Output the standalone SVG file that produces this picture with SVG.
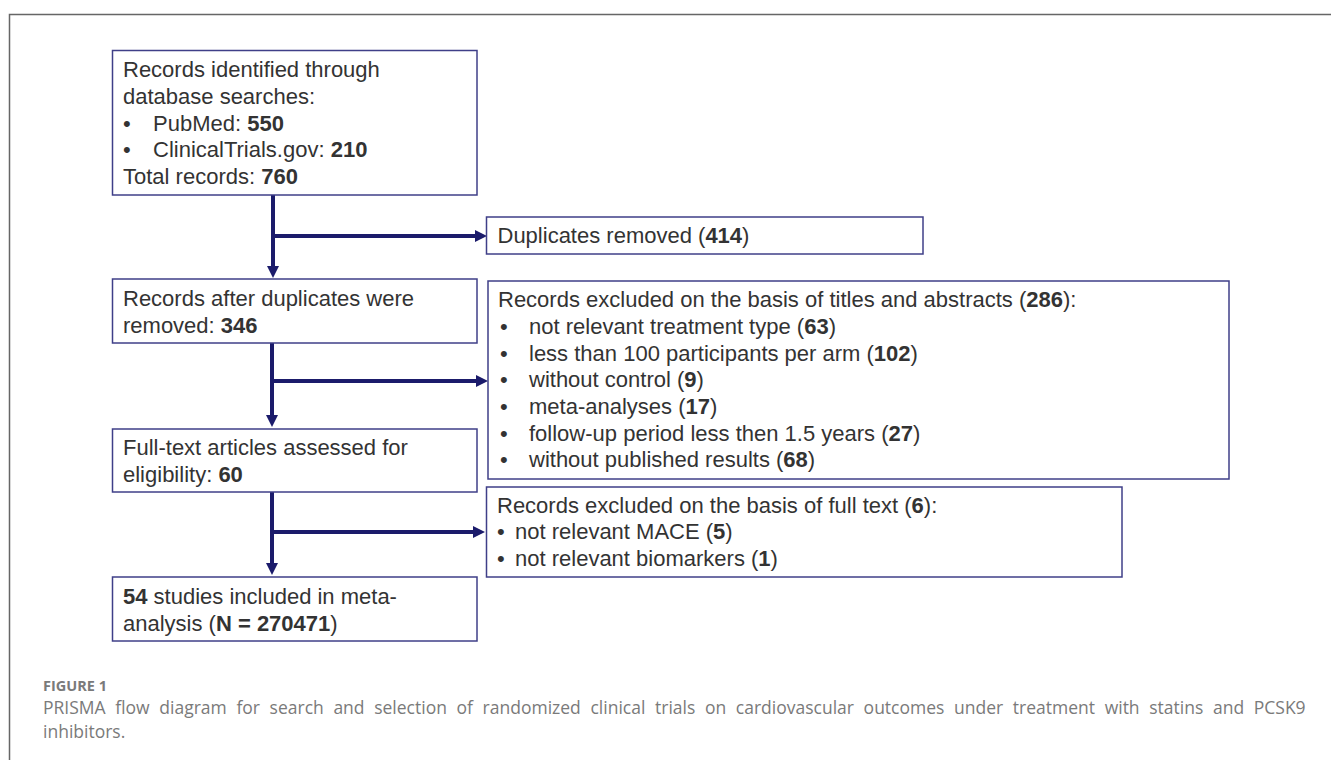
<svg xmlns="http://www.w3.org/2000/svg" width="1331" height="760" viewBox="0 0 1331 760">
<style>
.box{fill:#fff;stroke:#3f3f88;stroke-width:1.5}
.t{font-family:"Liberation Sans",Arial,sans-serif;font-size:22px;fill:#333}
.b{font-weight:bold}
.con{fill:none;stroke:#1b1b6b;stroke-width:4}
.frame{fill:none;stroke:#666;stroke-width:1.5}
.cap{font-family:"Open Sans","Noto Sans",sans-serif;fill:#7a7a7a}
</style>
<defs>
<marker id="ah" viewBox="0 0 12 12" refX="2" refY="6" markerWidth="12" markerHeight="12" markerUnits="userSpaceOnUse" orient="auto">
<path d="M0,0 L12,6 L0,12 z" fill="#1b1b6b"/>
</marker>
</defs>
<path class="frame" d="M1331,14.5 H9.5 V760"/>

<g id="connectors">
<path class="con" d="M273,195 V268" marker-end="url(#ah)"/>
<path class="con" d="M273,236 H477" marker-end="url(#ah)"/>
<path class="con" d="M272,343 V417" marker-end="url(#ah)"/>
<path class="con" d="M272,381 H478" marker-end="url(#ah)"/>
<path class="con" d="M272,492 V565" marker-end="url(#ah)"/>
<path class="con" d="M272,532 H475" marker-end="url(#ah)"/>
</g>

<g id="identified">
<rect class="box" x="112.5" y="50.5" width="364.5" height="144.5"/>
<text class="t" x="123" y="77">Records identified through</text>
<text class="t" x="123" y="104">database searches:</text>
<text class="t" x="123" y="131">•</text>
<text class="t" x="153" y="131">PubMed: <tspan class="b">550</tspan></text>
<text class="t" x="123" y="157">•</text>
<text class="t" x="153" y="157">ClinicalTrials.gov: <tspan class="b">210</tspan></text>
<text class="t" x="123" y="184">Total records: <tspan class="b">760</tspan></text>
</g>

<g id="duplicates">
<rect class="box" x="486.5" y="217" width="436.5" height="37"/>
<text class="t" x="497.5" y="243">Duplicates removed (<tspan class="b">414</tspan>)</text>
</g>

<g id="after-duplicates">
<rect class="box" x="112.5" y="279" width="364.5" height="64"/>
<text class="t" x="123" y="306">Records after duplicates were</text>
<text class="t" x="123" y="333">removed: <tspan class="b">346</tspan></text>
</g>

<g id="excluded-titles">
<rect class="box" x="488" y="281" width="741" height="198"/>
<text class="t" x="498" y="307">Records excluded on the basis of titles and abstracts (<tspan class="b">286</tspan>):</text>
<text class="t" x="500" y="334">•</text>
<text class="t" x="529" y="334">not relevant treatment type (<tspan class="b">63</tspan>)</text>
<text class="t" x="500" y="361">•</text>
<text class="t" x="529" y="361">less than 100 participants per arm (<tspan class="b">102</tspan>)</text>
<text class="t" x="500" y="387">•</text>
<text class="t" x="529" y="387">without control (<tspan class="b">9</tspan>)</text>
<text class="t" x="500" y="414">•</text>
<text class="t" x="529" y="414">meta-analyses (<tspan class="b">17</tspan>)</text>
<text class="t" x="500" y="441">•</text>
<text class="t" x="529" y="441">follow-up period less then 1.5 years (<tspan class="b">27</tspan>)</text>
<text class="t" x="500" y="467">•</text>
<text class="t" x="529" y="467">without published results (<tspan class="b">68</tspan>)</text>
</g>

<g id="full-text">
<rect class="box" x="112.5" y="429" width="364.5" height="63"/>
<text class="t" x="123" y="455">Full-text articles assessed for</text>
<text class="t" x="123" y="482">eligibility: <tspan class="b">60</tspan></text>
</g>

<g id="excluded-fulltext">
<rect class="box" x="486.5" y="487" width="635.5" height="90"/>
<text class="t" x="497" y="513">Records excluded on the basis of full text (<tspan class="b">6</tspan>):</text>
<text class="t" x="497" y="539">•</text>
<text class="t" x="515" y="539">not relevant MACE (<tspan class="b">5</tspan>)</text>
<text class="t" x="497" y="566">•</text>
<text class="t" x="515" y="566">not relevant biomarkers (<tspan class="b">1</tspan>)</text>
</g>

<g id="included">
<rect class="box" x="112.5" y="577" width="364.5" height="64"/>
<text class="t" x="123" y="604"><tspan class="b">54</tspan> studies included in meta-</text>
<text class="t" x="123" y="631">analysis (<tspan class="b">N = 270471</tspan>)</text>
</g>

<g id="caption">
<text class="cap" x="43" y="690.5" font-size="14.5" font-weight="bold">FIGURE 1</text>
<text class="cap" x="43" y="714" font-size="17.5" word-spacing="5.1">PRISMA flow diagram for search and selection of randomized clinical trials on cardiovascular outcomes under treatment with statins and PCSK9</text>
<text class="cap" x="43" y="738" font-size="17.5">inhibitors.</text>
</g>
</svg>
